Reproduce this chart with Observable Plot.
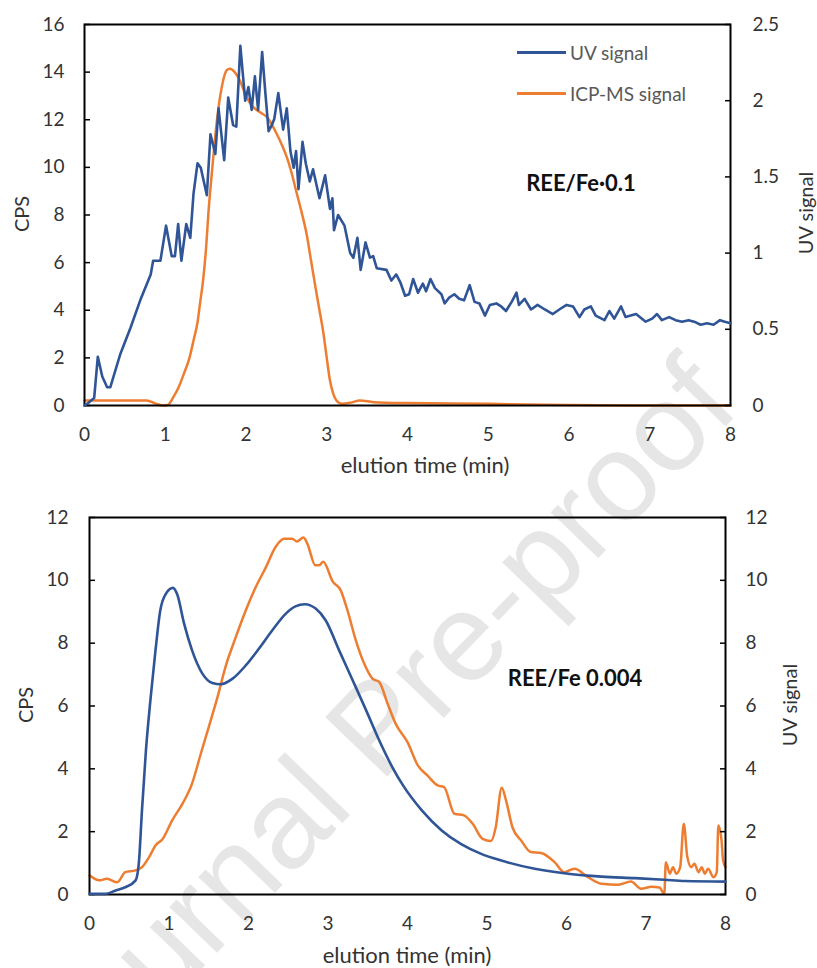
<!DOCTYPE html>
<html>
<head>
<meta charset="utf-8">
<script src="https://cdn.jsdelivr.net/npm/d3@7"></script>
<script src="https://cdn.jsdelivr.net/npm/@observablehq/plot@0.6"></script>
<style>
  html, body { margin: 0; padding: 0; background: #fff; }
  #page { position: relative; width: 817px; height: 968px; overflow: hidden; font-family: Lato, sans-serif; color: #333; }
  .layer { position: absolute; left: 0; }
  .lbl { position: absolute; white-space: nowrap; transform: translate(-50%, -50%); font-size: 20px; line-height: 1; color: #333; }
  .xl { font-size: 22px; }
  .rot { transform: translate(-50%, -50%) rotate(-90deg); }
  .ann { font-weight: bold; font-size: 22px; color: #111; }
  .leg { position: absolute; font-size: 19px; color: #595959; white-space: nowrap; }
  .leg .sw { position: absolute; left: 0; width: 49px; height: 3px; }
  .leg .tx { position: absolute; left: 53px; transform: translateY(-50%); }
</style>
</head>
<body>
<div id="page"></div>
<script>
// ---------- data ----------
const xTicks = [0, 1, 2, 3, 4, 5, 6, 7, 8];
const topCpsTicks = [0, 2, 4, 6, 8, 10, 12, 14, 16];
const topUvTicks = [0, 0.5, 1, 1.5, 2, 2.5];
const botCpsTicks = [0, 2, 4, 6, 8, 10, 12];
const botUvTicks = [0, 2, 4, 6, 8, 10, 12];

// Top panel (REE/Fe 0.1): UV signal (right axis)
const topUvTime = [0,0.03,0.12,0.165,0.22,0.28,0.32,0.445,0.57,0.69,0.82,0.85,0.94,1.01,1.08,1.12,1.16,1.2,1.26,1.31,1.35,1.4,1.44,1.515,1.56,1.62,1.66,1.73,1.78,1.84,1.88,1.93,1.99,2.03,2.07,2.11,2.15,2.2,2.24,2.28,2.32,2.35,2.4,2.46,2.505,2.55,2.59,2.62,2.65,2.7,2.74,2.79,2.83,2.91,2.98,3.04,3.07,3.09,3.14,3.22,3.29,3.33,3.38,3.42,3.48,3.535,3.575,3.62,3.74,3.8,3.86,3.91,3.97,4.02,4.07,4.13,4.19,4.23,4.285,4.34,4.42,4.46,4.52,4.58,4.64,4.7,4.77,4.83,4.89,4.96,5.02,5.1,5.16,5.22,5.29,5.35,5.38,5.45,5.53,5.61,5.7,5.8,5.88,5.97,6.05,6.13,6.19,6.27,6.33,6.44,6.5,6.56,6.645,6.7,6.83,6.95,7.03,7.09,7.15,7.24,7.32,7.4,7.48,7.55,7.63,7.71,7.79,7.87,7.93,8];
const topUvValue = [0,0.01,0.05,0.32,0.19,0.12,0.12,0.34,0.51,0.69,0.86,0.95,0.95,1.18,0.98,0.98,1.19,0.95,1.19,1.10,1.39,1.59,1.56,1.38,1.78,1.65,1.95,1.61,2.02,1.84,1.83,2.36,2.00,2.09,1.94,2.16,1.94,2.32,2.05,1.80,1.84,1.88,2.05,1.81,1.95,1.67,1.56,1.67,1.42,1.73,1.59,1.47,1.55,1.36,1.51,1.29,1.36,1.15,1.25,1.18,1.00,0.97,1.10,0.89,1.07,0.97,0.98,0.90,0.89,0.82,0.86,0.81,0.72,0.73,0.83,0.74,0.80,0.75,0.83,0.77,0.73,0.67,0.71,0.73,0.70,0.69,0.79,0.68,0.67,0.59,0.66,0.67,0.65,0.62,0.68,0.74,0.66,0.70,0.63,0.66,0.63,0.60,0.63,0.66,0.65,0.58,0.63,0.65,0.59,0.56,0.62,0.57,0.65,0.58,0.60,0.55,0.57,0.60,0.56,0.58,0.56,0.55,0.56,0.55,0.53,0.54,0.53,0.56,0.55,0.54];

// Top panel: ICP-MS signal (left axis, CPS)
const topIcpTime = [0,0.77,0.88,0.97,1.03,1.10,1.17,1.23,1.30,1.35,1.40,1.43,1.47,1.50,1.54,1.58,1.64,1.70,1.76,1.80,1.86,1.93,2.00,2.09,2.18,2.26,2.38,2.45,2.505,2.57,2.63,2.69,2.75,2.80,2.86,2.91,2.96,3.00,3.04,3.08,3.12,3.19,3.30,3.41,3.58,4.0,5.0,6.0,7.0,8.0];
const topIcpValue = [0.21,0.21,0.08,0,0.02,0.35,0.8,1.33,2.0,2.73,3.5,4.27,5.3,6.37,8.33,9.87,11.97,13.37,14.07,14.14,14.0,13.6,13.0,12.53,12.3,12.11,11.41,10.9,10.43,9.7,8.89,8.1,7.21,6.2,4.97,4.0,3.01,2.0,1.05,0.5,0.21,0.07,0.12,0.21,0.14,0.1,0.07,0.02,0,0];

// Bottom panel (REE/Fe 0.004): UV signal (right axis)
const botUvTime = [0,0.20,0.33,0.45,0.58,0.62,0.66,0.71,0.77,0.83,0.89,0.96,1.05,1.105,1.19,1.29,1.42,1.545,1.65,1.80,1.965,2.13,2.30,2.47,2.59,2.71,2.845,2.97,3.14,3.31,3.48,3.645,3.81,3.95,4.18,4.43,4.67,4.92,5.18,5.60,6.02,6.44,6.86,7.23,7.49,8.0];
const botUvValue = [0.02,0.02,0.13,0.23,0.45,0.98,2.68,4.59,6.28,7.77,9.04,9.57,9.76,9.54,8.62,7.77,7.03,6.73,6.69,6.87,7.29,7.82,8.41,8.94,9.17,9.24,9.10,8.73,7.77,6.82,5.86,4.90,4.05,3.45,2.68,2.04,1.61,1.30,1.08,0.82,0.66,0.57,0.52,0.47,0.43,0.41];

// Bottom panel: ICP-MS signal (left axis, CPS)
const botIcpTime = [0,0.12,0.22,0.35,0.45,0.58,0.66,0.75,0.83,0.92,1.04,1.17,1.29,1.40,1.50,1.61,1.71,1.84,1.965,2.09,2.22,2.34,2.45,2.55,2.61,2.69,2.74,2.84,2.89,2.94,3.06,3.16,3.245,3.35,3.455,3.56,3.645,3.75,3.85,4.00,4.13,4.25,4.38,4.46,4.59,4.71,4.82,4.945,5.05,5.11,5.185,5.24,5.32,5.43,5.55,5.68,5.85,5.97,6.10,6.27,6.44,6.65,6.81,6.94,7.07,7.17,7.23,7.25,7.30,7.34,7.38,7.43,7.475,7.52,7.57,7.61,7.66,7.70,7.74,7.78,7.85,7.89,7.91,7.95,7.97,8.0];
const botIcpValue = [0.61,0.45,0.5,0.39,0.71,0.77,0.87,1.19,1.56,1.77,2.36,2.89,3.53,4.48,5.33,6.28,7.24,8.19,9.04,9.78,10.42,11.06,11.32,11.32,11.24,11.36,11.17,10.48,10.48,10.59,9.96,9.68,9.04,8.09,7.35,6.87,6.76,6.07,5.44,4.85,4.11,3.79,3.47,3.42,2.57,2.52,2.25,1.77,1.70,2.14,3.40,2.99,2.14,1.72,1.35,1.32,1.03,0.71,0.82,0.55,0.34,0.31,0.41,0.18,0.25,0.22,0.02,1.03,0.66,0.87,0.66,0.87,2.25,1.19,0.87,0.98,0.71,0.87,0.66,0.82,0.55,0.71,2.20,1.72,1.08,0.87];

const seriesNames = ["UV signal", "ICP-MS signal"];
const panelLabels = ["REE/Fe\u00B70.1", "REE/Fe 0.004"];
const xLabel = "elution time (min)";
const leftLabel = "CPS";
const rightLabel = "UV signal";

// ---------- helpers ----------
const BLUE = "#2F5597", ORANGE = "#ED7D31";
const zipXY = (t, v) => t.map((d, i) => ({t: d, v: v[i]}));
const page = document.getElementById("page");

function addEl(html, cls, x, y) {
  const d = document.createElement("div");
  d.className = cls;
  d.textContent = html;
  d.style.left = x + "px";
  d.style.top = y + "px";
  page.appendChild(d);
  return d;
}

// watermark (behind)
const ns = "http://www.w3.org/2000/svg";
const wm = document.createElementNS(ns, "svg");
wm.setAttribute("width", 817); wm.setAttribute("height", 968);
wm.style.position = "absolute"; wm.style.left = "0"; wm.style.top = "0";
const wt = document.createElementNS(ns, "text");
wt.setAttribute("x", 71); wt.setAttribute("y", 1104);
wt.setAttribute("transform", "rotate(-46 71 1104)");
wt.setAttribute("font-family", "Liberation Sans, Arial, sans-serif");
wt.setAttribute("font-size", 125);
wt.setAttribute("fill", "#e6e6e6");
wt.textContent = "Journal Pre-proof";
wm.appendChild(wt);
page.appendChild(wm);

function panel({top, height, mt, mb, ml, mr, cpsDomain, cpsTicks, uvDomain, uvTicks, icp, uv, uvCurve, lpad, rpad}) {
  const common = {
    width: 817, height, marginTop: mt, marginBottom: mb, marginLeft: ml, marginRight: mr,
    style: {background: "transparent", fontFamily: "Lato, sans-serif", fontSize: "19px", color: "#333", overflow: "visible"}
  };
  const cps = Plot.plot({
    ...common,
    x: {domain: [0, 8]},
    y: {domain: cpsDomain},
    marks: [
      Plot.lineY(icp, {x: "t", y: "v", stroke: ORANGE, strokeWidth: 2.5, curve: "monotone-x"}),
      Plot.axisX({ticks: xTicks, tickSize: 0, tickPadding: 22, label: null, fill: "#333"}),
      Plot.axisY({ticks: cpsTicks, tickSize: 0, tickPadding: lpad, label: null, fill: "#333"}),
      Plot.axisY({ticks: cpsTicks, tickSize: 6, dx: 6, fill: "none", label: null, stroke: "#000", strokeWidth: 1.5}),
      Plot.frame({stroke: "#000", strokeWidth: 2})
    ]
  });
  const uvp = Plot.plot({
    ...common,
    x: {domain: [0, 8], axis: null},
    y: {domain: uvDomain},
    marks: [
      Plot.lineY(uv, {x: "t", y: "v", stroke: BLUE, strokeWidth: 2.6, curve: uvCurve}),
      Plot.axisY({anchor: "right", ticks: uvTicks, tickSize: 0, tickPadding: rpad, tickFormat: d => String(d), label: null, fill: "#333"}),
      Plot.axisY({anchor: "right", ticks: uvTicks, tickSize: 6, dx: -6, fill: "none", label: null, stroke: "#000", strokeWidth: 1.5})
    ]
  });
  for (const p of [cps, uvp]) {
    p.classList.add("layer");
    p.style.position = "absolute";
    p.style.top = top + "px";
    p.style.left = "0px";
    page.appendChild(p);
  }
}

panel({top: 0, height: 490, mt: 24, mb: 85, ml: 84, mr: 87,
  cpsDomain: [0, 16], cpsTicks: topCpsTicks, uvDomain: [0, 2.5], uvTicks: topUvTicks,
  icp: zipXY(topIcpTime, topIcpValue), uv: zipXY(topUvTime, topUvValue), uvCurve: "linear", lpad: 20, rpad: 22});

panel({top: 490, height: 478, mt: 27, mb: 74, ml: 89, mr: 92,
  cpsDomain: [0, 12], cpsTicks: botCpsTicks, uvDomain: [0, 12], uvTicks: botUvTicks,
  icp: zipXY(botIcpTime, botIcpValue), uv: zipXY(botUvTime, botUvValue), uvCurve: "monotone-x", lpad: 21, rpad: 20});

// axis titles
addEl(leftLabel, "lbl rot", 21, 214);
addEl(rightLabel, "lbl rot", 805, 213);
addEl(xLabel, "lbl xl", 425, 465);
addEl(leftLabel, "lbl rot", 25, 705);
addEl(rightLabel, "lbl rot", 789, 705);
addEl(xLabel, "lbl xl", 407, 955);

// panel annotations
addEl(panelLabels[0], "lbl ann", 581, 183);
addEl(panelLabels[1], "lbl ann", 575, 678);

// legend (top panel)
[[seriesNames[0], BLUE, 52], [seriesNames[1], ORANGE, 93]].forEach(([name, col, y]) => {
  const g = document.createElement("div");
  g.className = "leg";
  g.style.left = "517px"; g.style.top = y + "px";
  const sw = document.createElement("div");
  sw.className = "sw"; sw.style.background = col; sw.style.top = "-1.5px";
  const tx = document.createElement("div");
  tx.className = "tx"; tx.textContent = name;
  g.appendChild(sw); g.appendChild(tx);
  page.appendChild(g);
});
</script>
</body>
</html>
